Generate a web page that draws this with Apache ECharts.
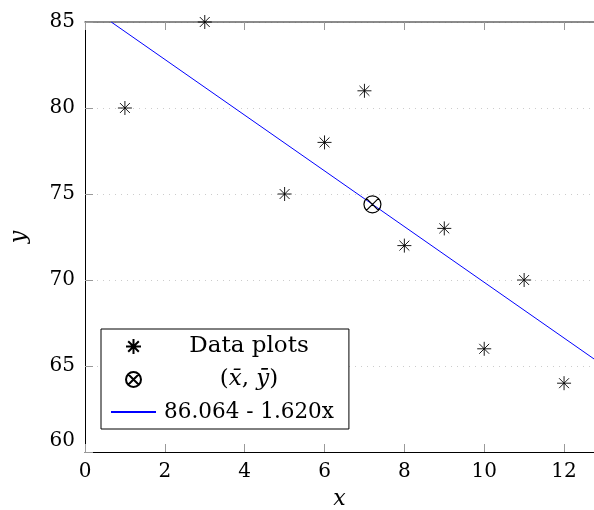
<!DOCTYPE html>
<html>
<head>
<meta charset="utf-8">
<script src="https://cdn.jsdelivr.net/npm/echarts@6/dist/echarts.min.js"></script>
<style>
  html, body { margin: 0; padding: 0; background: #fff; }
  #chart { width: 594px; height: 510px; }
</style>
</head>
<body>
<div id="chart"></div>
<script>
// data
const xValues = [1, 3, 5, 6, 7, 8, 9, 10, 11, 12];
const yValues = [80, 85, 75, 78, 81, 72, 73, 66, 70, 64];
const meanPoint = [7.2, 74.4];
// regression line 86.064 - 1.620x, end points as drawn
const lineX = [0.657, 12.75];
const lineY = [85, 65.41];
const xTicks = [0, 2, 4, 6, 8, 10, 12];
const yTicks = [60, 65, 70, 75, 80, 85];

const FONT = 'DejaVu Serif';
const STAR = 'path://M0,5L10,5M5,0L5,10M1.46,1.46L8.54,8.54M8.54,1.46L1.46,8.54';
const OTIMES = 'path://M0,5A5,5 0 1,1 10,5A5,5 0 1,1 0,5ZM1.46,1.46L8.54,8.54M8.54,1.46L1.46,8.54';

const chart = echarts.init(document.getElementById('chart'));

const tickStyle = { inside: true, length: 8, lineStyle: { color: '#999', width: 1 } };

const option = {
  animation: false,
  grid: { left: 85, right: 0, top: 22, bottom: 58, containLabel: false, outerBoundsMode: 'none' },
  xAxis: [
    {
      type: 'value', min: 0, max: 12.75, interval: 2,
      name: 'x', nameLocation: 'middle', nameGap: 36,
      nameTextStyle: { fontFamily: FONT, fontStyle: 'italic', fontSize: 22, color: '#000' },
      axisLine: { lineStyle: { color: '#000', width: 1 } },
      axisTick: tickStyle,
      axisLabel: {
        fontFamily: FONT, fontSize: 20, color: '#000', margin: 10,
        formatter: v => (xTicks.indexOf(v) >= 0 ? String(v) : '')
      },
      splitLine: { show: false }
    },
    {
      type: 'value', position: 'top', min: 0, max: 12.75, interval: 2,
      axisLine: { show: true, lineStyle: { color: '#666', width: 1.5 } },
      axisTick: tickStyle,
      axisLabel: { show: false },
      splitLine: { show: false }
    }
  ],
  yAxis: {
    type: 'value', min: 60, max: 85, interval: 5,
    name: 'y', nameLocation: 'middle', nameGap: 55, nameRotate: 90,
    nameTextStyle: { fontFamily: FONT, fontStyle: 'italic', fontSize: 22, color: '#000' },
    axisLine: { show: true, lineStyle: { color: '#000', width: 1 } },
    axisTick: tickStyle,
    axisLabel: {
      fontFamily: FONT, fontSize: 20, color: '#000', margin: 10,
      formatter: function (v) {
        if (yTicks.indexOf(v) < 0) return '';
        return v === yTicks[0] ? '{low|' + v + '}' : String(v);
      },
      rich: {
        low: { fontFamily: FONT, fontSize: 20, color: '#000', padding: [0, 0, 22, 0] }
      }
    },
    splitLine: { show: true, lineStyle: { color: '#ccc', type: [1, 5], width: 1.2 } }
  },
  legend: {
    orient: 'vertical',
    left: 101, top: 329,
    padding: [6, 15, 6, 9],
    itemWidth: 45, itemHeight: 15, itemGap: 10,
    backgroundColor: '#fff',
    borderColor: '#000', borderWidth: 1,
    z: 10,
    data: [
      'Data plots',
      'mean',
      { name: 'fit', itemStyle: { color: 'rgba(0,0,0,0)', borderWidth: 0, opacity: 0 } }
    ],
    formatter: function (name) {
      if (name === 'mean') return '{c|(}{i|x̄}{c|, }{i|ȳ}{c|)}';
      if (name === 'fit') return '{f|86.064 - 1.620x}';
      return '{c|' + name + '}';
    },
    textStyle: {
      width: 176,
      fontFamily: FONT, fontSize: 23, color: '#000',
      rich: {
        c: { fontFamily: FONT, fontSize: 23, color: '#000', align: 'center', lineHeight: 26 },
        f: { fontFamily: FONT, fontSize: 21.5, color: '#000', align: 'center', lineHeight: 26 },
        i: { fontFamily: FONT, fontSize: 23, fontStyle: 'italic', color: '#000', align: 'center', lineHeight: 26 }
      }
    }
  },
  series: [
    {
      name: 'fit',
      type: 'line',
      data: lineX.map((x, i) => [x, lineY[i]]),
      symbol: 'none',
      lineStyle: { color: '#0000ff', width: 1 },
      itemStyle: { color: '#0000ff' },
      z: 2
    },
    {
      name: 'Data plots',
      type: 'scatter',
      data: xValues.map((x, i) => [x, yValues[i]]),
      symbol: STAR,
      symbolSize: 14,
      itemStyle: { color: 'rgba(0,0,0,0)', borderColor: '#000', borderWidth: 0.9, opacity: 1 },
      z: 3
    },
    {
      name: 'mean',
      type: 'scatter',
      data: [meanPoint],
      symbol: OTIMES,
      symbolSize: 17,
      itemStyle: { color: 'rgba(0,0,0,0)', borderColor: '#000', borderWidth: 1.2, opacity: 1 },
      z: 3
    }
  ]
};

chart.setOption(option);
</script>
</body>
</html>
